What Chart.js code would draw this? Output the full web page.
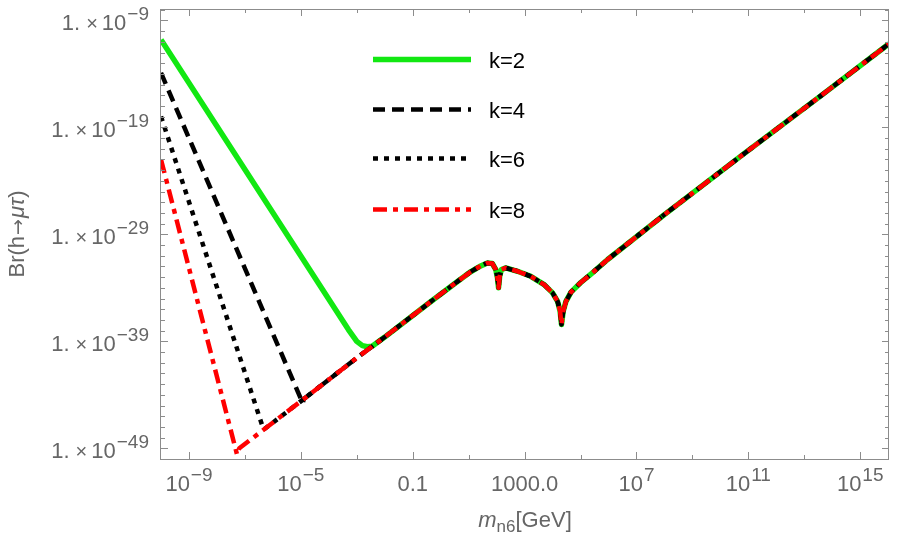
<!DOCTYPE html>
<html>
<head>
<meta charset="utf-8">
<script src="https://cdn.jsdelivr.net/npm/chart.js@4/dist/chart.umd.min.js"></script>
<style>
  body { margin: 0; background: #fff; }
  #wrap { width: 900px; height: 550px; }
</style>
</head>
<body>
<div id="wrap"><canvas id="chart"></canvas></div>
<script>
// values, kept as log10 (mass in GeV, branching ratio)
var seriesNames = ["k=2", "k=4", "k=6", "k=8"];

// falling branch of each curve, up to where it meets the common line
var k2LogM  = [-10, -3.3, -3.0, -2.8, -2.62, -2.45];
var k2LogBr = [-10.8, -37.9, -39.0, -39.4, -39.5, -39.45];
var k4LogM  = [-10, -4.93];
var k4LogBr = [-13.9, -44.8];
var k6LogM  = [-10, -6.34];
var k6LogBr = [-17.97, -47.2];
var k8LogM  = [-10, -7.28];
var k8LogBr = [-22.0, -49.6];

// rising part, the same for every k
var tailLogM  = [-7.2, -6.3, -4.9, -3.0, -2.0, -0.36, 0.6, 1.07, 1.43, 1.67, 1.85, 1.97, 2.03, 2.07,
                 2.11, 2.17, 2.33, 2.75, 3.22, 3.7, 4.0, 4.18, 4.27, 4.32, 4.38, 4.48, 4.66, 5.01,
                 5.49, 5.97, 8.0, 10.8, 13.6, 16.03];
var tailLogBr = [-49.0, -47.2, -44.4, -40.55, -38.6, -35.3, -33.4, -32.5, -31.95, -31.67, -31.73,
                 -32.29, -33.07, -34.0, -32.92, -32.29, -32.14, -32.45, -32.92, -33.7, -34.47, -35.26,
                 -36.19, -37.43, -36.19, -35.26, -34.4, -33.5, -32.45, -31.35, -27.15, -21.55,
                 -16.03, -11.18];

// axis ticks (exponents) and labels
var xMinorExp = [-9, -7, -5, -3, -1, 1, 3, 5, 7, 9, 11, 13, 15];
var xMajorExp = [-9, -5, -1, 3, 7, 11, 15];
var xMajorText = [["10", "\u22129"], ["10", "\u22125"], ["0.1", ""], ["1000.0", ""],
                  ["10", "7"], ["10", "11"], ["10", "15"]];
var yMajorExp = [-9, -19, -29, -39, -49];
var yMajorSup = ["\u22129", "\u221219", "\u221229", "\u221239", "\u221249"];

var colors = ["#12e812", "#000000", "#000000", "#ff0000"];
var widths = [5.5, 4.5, 4.5, 4.5];
var dashes = [[], [12, 7], [5, 6], [14, 6, 5, 6]];

function toPoints(lm, lb) {
    var pts = lm.map(function(v, i) { return {x: Math.pow(10, v), y: Math.pow(10, lb[i])}; });
    var last = lm[lm.length - 1];
    tailLogM.forEach(function(v, i) {
        if (v > last) pts.push({x: Math.pow(10, v), y: Math.pow(10, tailLogBr[i])});
    });
    return pts;
}

var series = [toPoints(k2LogM, k2LogBr), toPoints(k4LogM, k4LogBr),
              toPoints(k6LogM, k6LogBr), toPoints(k8LogM, k8LogBr)];

var FONT = '"Liberation Sans", Arial, sans-serif';

// draw a row of text pieces; each piece {t, size, italic, dy, gap, family}
function drawPieces(ctx, pieces, x, y, align, color) {
    var total = 0;
    function setFont(p) {
        ctx.font = (p.italic ? 'italic ' : '') + p.size + 'px ' + (p.family || FONT);
    }
    pieces.forEach(function(p) {
        setFont(p);
        p.w = ctx.measureText(p.t).width;
        total += p.w + (p.gap || 0);
    });
    var cx = align === 'right' ? x - total : (align === 'center' ? x - total / 2 : x);
    ctx.fillStyle = color;
    ctx.textAlign = 'left';
    ctx.textBaseline = 'alphabetic';
    pieces.forEach(function(p) {
        cx += (p.gap || 0);
        setFont(p);
        ctx.fillText(p.t, cx, y + (p.dy || 0));
        cx += p.w;
    });
}

var framePlugin = {
    id: 'frame',
    afterDraw: function(chart) {
        var ctx = chart.ctx, a = chart.chartArea;
        var xs = chart.scales.x, ys = chart.scales.y;
        ctx.save();
        ctx.strokeStyle = '#8c8c8c';
        ctx.lineWidth = 1;
        ctx.strokeRect(a.left - 0.5, a.top + 0.5, a.right - a.left, a.bottom - a.top);

        ctx.beginPath();
        xMinorExp.forEach(function(e) {
            var px = Math.round(xs.getPixelForValue(Math.pow(10, e))) + 0.5;
            var len = xMajorExp.indexOf(e) >= 0 ? 7 : 4;
            ctx.moveTo(px, a.bottom); ctx.lineTo(px, a.bottom - len);
            ctx.moveTo(px, a.top); ctx.lineTo(px, a.top + len);
        });
        for (var e = -49; e <= -8; e++) {
            var py = Math.round(ys.getPixelForValue(Math.pow(10, e))) + 0.5;
            var len = yMajorExp.indexOf(e) >= 0 ? 7 : 4;
            ctx.moveTo(a.left, py); ctx.lineTo(a.left + len, py);
            ctx.moveTo(a.right, py); ctx.lineTo(a.right - len, py);
        }
        ctx.stroke();

        var gray = '#666666';
        xMajorExp.forEach(function(e, i) {
            var px = xs.getPixelForValue(Math.pow(10, e));
            var t = xMajorText[i];
            var pieces = [{t: t[0], size: 22}];
            if (t[1]) pieces.push({t: t[1], size: 19, dy: -10, gap: 1});
            drawPieces(ctx, pieces, px, 491, 'center', gray);
        });
        yMajorExp.forEach(function(e, i) {
            var py = ys.getPixelForValue(Math.pow(10, e));
            drawPieces(ctx, [
                {t: "1.", size: 22},
                {t: "\u00d7", size: 20, gap: 6},
                {t: "10", size: 22, gap: 4},
                {t: yMajorSup[i], size: 19, dy: -10, gap: 1}
            ], 149, py + 10, 'right', gray);
        });

        // axis titles
        drawPieces(ctx, [
            {t: "m", size: 22, italic: true},
            {t: "n6", size: 17, dy: 5},
            {t: "[GeV]", size: 22}
        ], (a.left + a.right) / 2, 527, 'center', gray);
        ctx.save();
        ctx.translate(23.5, (a.top + a.bottom) / 2);
        ctx.rotate(-Math.PI / 2);
        drawPieces(ctx, [
            {t: "Br(h", size: 22},
            {t: "\u2192", size: 19, family: '"DejaVu Sans", sans-serif', gap: 1},
            {t: "\u03bc\u03c4", size: 22, italic: true, gap: 1},
            {t: ")", size: 22}
        ], 0, 0, 'center', gray);
        ctx.restore();

        // legend
        var legY = [59.5, 109.5, 158.5, 209.5];
        seriesNames.forEach(function(name, i) {
            ctx.beginPath();
            ctx.strokeStyle = colors[i];
            ctx.lineWidth = widths[i];
            ctx.lineCap = 'butt';
            ctx.setLineDash(dashes[i]);
            ctx.moveTo(373, legY[i]);
            ctx.lineTo(471, legY[i]);
            ctx.stroke();
            ctx.setLineDash([]);
            drawPieces(ctx, [{t: name, size: 22}], 489, legY[i] + 8, 'left', '#000000');
        });
        ctx.restore();
    }
};

var ctx = document.getElementById('chart').getContext('2d');
var chart = new Chart(ctx, {
    type: 'scatter',
    data: {
        datasets: series.map(function(pts, i) {
            return {
                label: seriesNames[i],
                data: pts,
                showLine: true,
                borderColor: colors[i],
                borderWidth: widths[i],
                borderDash: dashes[i],
                borderCapStyle: 'butt',
                borderJoinStyle: 'round',
                pointRadius: 0,
                tension: 0,
                fill: false,
                order: 4 - i
            };
        })
    },
    options: {
        responsive: true,
        maintainAspectRatio: false,
        animation: false,
        layout: { padding: { left: 161, right: 11, top: 9, bottom: 91 } },
        plugins: { legend: { display: false }, tooltip: { enabled: false } },
        scales: {
            x: { type: 'logarithmic', min: 1e-10, max: Math.pow(10, 16.03), display: false },
            y: { type: 'logarithmic', min: Math.pow(10, -49.93), max: Math.pow(10, -7.93), display: false }
        }
    },
    plugins: [framePlugin]
});
</script>
</body>
</html>
